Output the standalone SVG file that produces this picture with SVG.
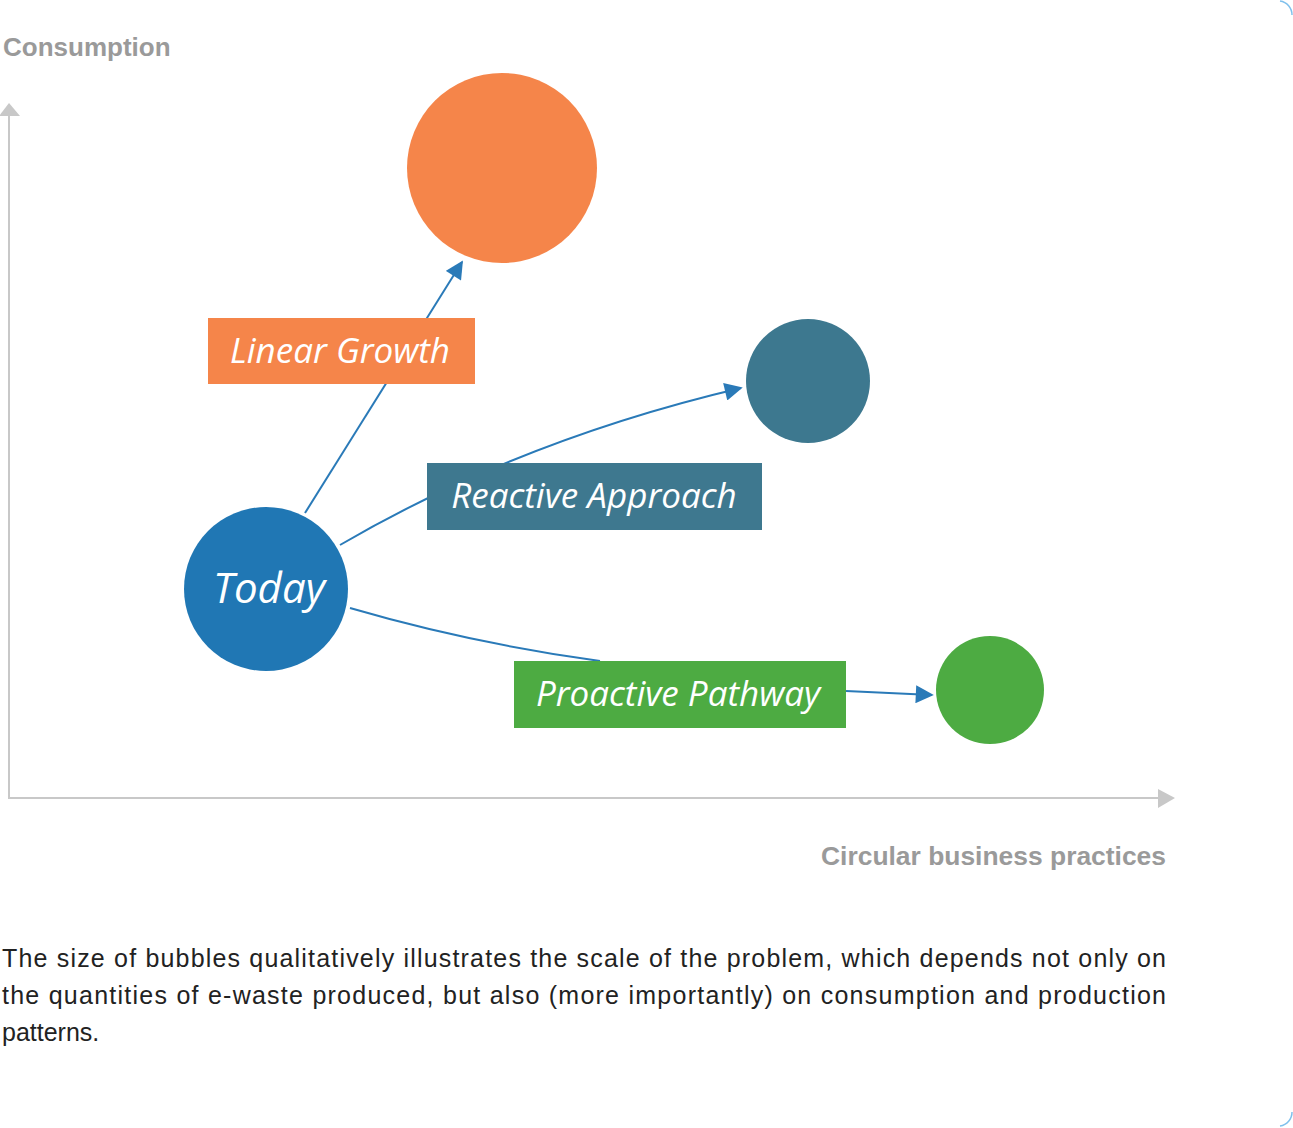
<svg xmlns="http://www.w3.org/2000/svg" width="1293" height="1128" viewBox="0 0 1293 1128">
<style>
.axis{stroke:#c8c8c8;stroke-width:2;fill:none}
.axlbl{font-family:"Liberation Sans",Arial,sans-serif;font-weight:bold;font-size:26px;fill:#9a9a9a}
.conn{stroke:#2a7ab8;stroke-width:2;fill:none}
.lbl{font-family:"Open Sans","Noto Sans",sans-serif;font-style:italic;fill:#ffffff}
.cap{font-family:"Liberation Sans",Arial,sans-serif;font-size:25px;fill:#222222}
</style>
<defs>
<marker id="ah" viewBox="0 0 10 10" refX="9" refY="5" markerWidth="19" markerHeight="18" markerUnits="userSpaceOnUse" orient="auto"><path d="M0,0 L10,5 L0,10 z" fill="#2a7ab8"/></marker>
</defs>
<rect width="1293" height="1128" fill="#ffffff"/>
<path d="M1280,1 A14,14 0 0 1 1292,15" stroke="#7fc0ec" stroke-width="1.5" fill="none"/>
<path d="M1292,1112 A14,14 0 0 1 1280,1126" stroke="#7fc0ec" stroke-width="1.5" fill="none"/>

<g id="axes">
<line class="axis" x1="9" y1="112" x2="9" y2="798"/>
<line class="axis" x1="8" y1="798" x2="1160" y2="798"/>
<path d="M-1,116 L9,103 L20,116 z" fill="#c8c8c8"/>
<path d="M1158,789 L1175,798 L1158,808 z" fill="#c8c8c8"/>
<text class="axlbl" x="3" y="56">Consumption</text>
<text class="axlbl" x="1166" y="865" text-anchor="end" textLength="345" lengthAdjust="spacingAndGlyphs">Circular business practices</text>
</g>

<g id="connectors">
<line class="conn" x1="305" y1="513" x2="462" y2="262" marker-end="url(#ah)"/>
<path class="conn" d="M340,545 Q520,440 741,388" marker-end="url(#ah)"/>
<path class="conn" d="M350,608 Q470,643 600,661"/>
<path class="conn" d="M846,691 L932,695" marker-end="url(#ah)"/>
</g>

<g id="orange-bubble"><circle cx="502" cy="168" r="95" fill="#f5854a"/></g>
<g id="teal-bubble"><circle cx="808" cy="381" r="62" fill="#3d788f"/></g>
<g id="green-bubble"><circle cx="990" cy="690" r="54" fill="#4dab42"/></g>
<g id="today"><circle cx="266" cy="589" r="82" fill="#2077b4"/>
<text class="lbl" x="269" y="603" font-size="42" text-anchor="middle">Today</text></g>

<g id="linear-growth"><rect x="208" y="318" width="267" height="66" fill="#f5854a"/>
<text class="lbl" x="340" y="363" font-size="35" text-anchor="middle">Linear Growth</text></g>
<g id="reactive-approach"><rect x="427" y="463" width="335" height="67" fill="#3e788f"/>
<text class="lbl" x="594" y="508" font-size="35" text-anchor="middle">Reactive Approach</text></g>
<g id="proactive-pathway"><rect x="514" y="661" width="332" height="67" fill="#4dab42"/>
<text class="lbl" x="678" y="706" font-size="35" text-anchor="middle">Proactive Pathway</text></g>

<g id="caption">
<text class="cap" x="2" y="967" textLength="1164" lengthAdjust="spacing">The size of bubbles qualitatively illustrates the scale of the problem, which depends not only on</text>
<text class="cap" x="2" y="1004" textLength="1164" lengthAdjust="spacing">the quantities of e-waste produced, but also (more importantly) on consumption and production</text>
<text class="cap" x="2" y="1041">patterns.</text>
</g>
</svg>
